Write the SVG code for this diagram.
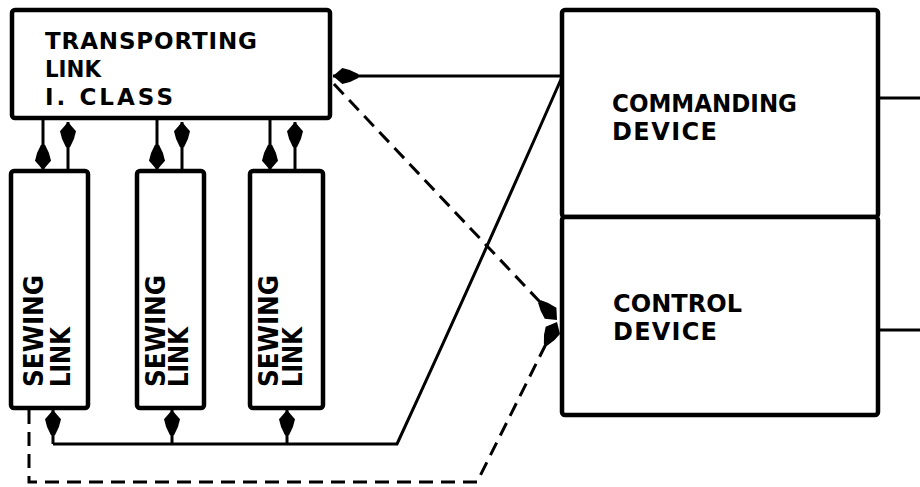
<svg xmlns="http://www.w3.org/2000/svg" width="920" height="487" viewBox="0 0 920 487">
<defs>
<style>
.box{fill:#fff;stroke:#000;stroke-width:4.5;stroke-linejoin:round}
.ln{fill:none;stroke:#000;stroke-width:3}
.dash{fill:none;stroke:#000;stroke-width:3;stroke-dasharray:14 8}
.t{font-family:"DejaVu Sans","Liberation Sans",sans-serif;font-weight:bold;fill:#000}
</style>
<marker id="ah" markerUnits="userSpaceOnUse" markerWidth="32" markerHeight="22" viewBox="-21 -8 24 16" refX="0" refY="0" orient="auto">
<path d="M0,0 L-7,-6 Q-13,-5 -19,-1.5 L-19,1.5 Q-13,5 -7,6 Z" fill="#000"/>
</marker>
</defs>
<rect width="920" height="487" fill="#fff"/>
<g id="connectors">
<line class="ln" x1="43" y1="118" x2="43" y2="170" marker-end="url(#ah)"/>
<line class="ln" x1="68" y1="170" x2="68" y2="122" marker-end="url(#ah)"/>
<line class="ln" x1="157" y1="118" x2="157" y2="170" marker-end="url(#ah)"/>
<line class="ln" x1="182" y1="170" x2="182" y2="122" marker-end="url(#ah)"/>
<line class="ln" x1="270" y1="118" x2="270" y2="170" marker-end="url(#ah)"/>
<line class="ln" x1="295" y1="170" x2="295" y2="122" marker-end="url(#ah)"/>
<line class="ln" x1="562" y1="76" x2="333" y2="76" marker-end="url(#ah)"/>
<path class="ln" d="M53,444 H397 Q475,275 562,77"/>
<line class="ln" x1="53" y1="444" x2="53" y2="410" marker-end="url(#ah)"/>
<line class="ln" x1="172" y1="444" x2="172" y2="410" marker-end="url(#ah)"/>
<line class="ln" x1="287" y1="444" x2="287" y2="410" marker-end="url(#ah)"/>
<line class="dash" x1="334" y1="84" x2="557" y2="320" marker-end="url(#ah)"/>
<path class="dash" d="M29,410 V482 H477 L557,322" marker-end="url(#ah)"/>
<line class="ln" x1="878" y1="98" x2="920" y2="98"/>
<line class="ln" x1="878" y1="330" x2="920" y2="330"/>
</g>
<g id="transporting">
<rect class="box" x="12" y="10" width="318" height="108" rx="3"/>
<text class="t" font-size="23" x="45" y="49" textLength="212" lengthAdjust="spacing">TRANSPORTING</text>
<text class="t" font-size="23" x="45" y="77" textLength="56" lengthAdjust="spacingAndGlyphs">LINK</text>
<text class="t" font-size="23" x="45" y="105" textLength="128" lengthAdjust="spacing">I. CLASS</text>
</g>
<g id="sewing1">
<rect class="box" x="11" y="171" width="77" height="237" rx="3"/>
<text class="t" font-size="27" transform="translate(43,387) rotate(-90)" textLength="112" lengthAdjust="spacingAndGlyphs">SEWING</text>
<text class="t" font-size="26" transform="translate(70,387) rotate(-90)" textLength="60" lengthAdjust="spacingAndGlyphs">LINK</text>
</g>
<g id="sewing2">
<rect class="box" x="137" y="171" width="67" height="237" rx="3"/>
<text class="t" font-size="27" transform="translate(165,387) rotate(-90)" textLength="112" lengthAdjust="spacingAndGlyphs">SEWING</text>
<text class="t" font-size="26" transform="translate(188,387) rotate(-90)" textLength="60" lengthAdjust="spacingAndGlyphs">LINK</text>
</g>
<g id="sewing3">
<rect class="box" x="250" y="171" width="73" height="237" rx="3"/>
<text class="t" font-size="27" transform="translate(278,387) rotate(-90)" textLength="112" lengthAdjust="spacingAndGlyphs">SEWING</text>
<text class="t" font-size="26" transform="translate(302,387) rotate(-90)" textLength="60" lengthAdjust="spacingAndGlyphs">LINK</text>
</g>
<g id="commanding">
<rect class="box" x="562" y="10" width="316" height="207" rx="3"/>
<text class="t" font-size="24" x="612" y="112" textLength="185" lengthAdjust="spacingAndGlyphs">COMMANDING</text>
<text class="t" font-size="24" x="612" y="140" textLength="105" lengthAdjust="spacing">DEVICE</text>
</g>
<g id="control">
<rect class="box" x="562" y="217" width="316" height="198" rx="3"/>
<text class="t" font-size="24" x="613" y="312" textLength="129" lengthAdjust="spacing">CONTROL</text>
<text class="t" font-size="24" x="613" y="340" textLength="104" lengthAdjust="spacing">DEVICE</text>
</g>
</svg>
